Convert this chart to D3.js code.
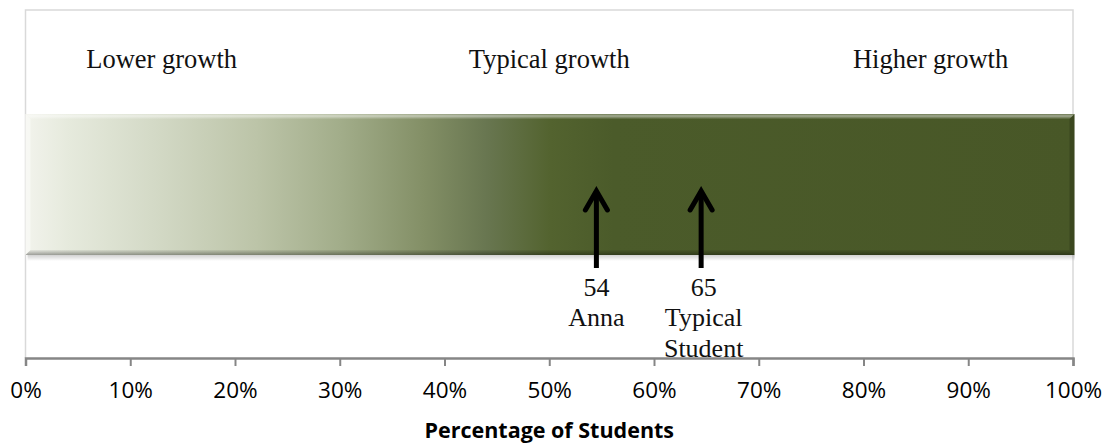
<!DOCTYPE html>
<html>
<head>
<meta charset="utf-8">
<script src="https://cdn.jsdelivr.net/npm/d3@7/dist/d3.min.js"></script>
<style>
  html, body { margin: 0; padding: 0; background: #fff; }
  svg { display: block; }
</style>
</head>
<body>
<svg id="chart" width="1105" height="443"></svg>
<script>
// ---- data ----
const zoneLabels = ["Lower growth", "Typical growth", "Higher growth"];
const zoneCenters = [13, 50, 86.4];              // percent position of zone label centres
const barValues = [100];                          // full-width percentile band
const markerPositions = [54.5, 64.5];             // where arrows point (percent)
const markerValues = ["54", "65"];
const markerNames = [["Anna"], ["Typical", "Student"]];
const tickValues = [0, 10, 20, 30, 40, 50, 60, 70, 80, 90, 100];
const axisTitle = "Percentage of Students";

// ---- layout ----
const svg = d3.select("#chart");
const pLeft = 25.5, pRight = 1073, pTop = 10, axisY = 358;
const barTop = 114, barBottom = 255;

const x = d3.scaleLinear().domain([0, 100]).range([pLeft, pRight]);

const defs = svg.append("defs");
const grad = defs.append("linearGradient").attr("id", "barGrad")
  .attr("x1", "0%").attr("x2", "100%").attr("y1", "0%").attr("y2", "0%");
[[0, "#f2f3ec"], [0.04, "#e6eadd"], [0.12, "#d4dac7"], [0.22, "#bcc4a8"],
 [0.3, "#a2ad8a"], [0.38, "#838f66"], [0.44, "#687650"], [0.5, "#53632f"],
 [0.56, "#4b5b2a"], [1, "#485727"]].forEach(([o, c]) =>
  grad.append("stop").attr("offset", o).attr("stop-color", c));

const topGrad = defs.append("linearGradient").attr("id", "topGrad")
  .attr("x1", 0).attr("x2", 0).attr("y1", 0).attr("y2", 1);
topGrad.append("stop").attr("offset", 0).attr("stop-color", "#fff").attr("stop-opacity", 0.2);
topGrad.append("stop").attr("offset", 0.4).attr("stop-color", "#fff").attr("stop-opacity", 0.5);
topGrad.append("stop").attr("offset", 1).attr("stop-color", "#fff").attr("stop-opacity", 0.05);

const botGrad = defs.append("linearGradient").attr("id", "botGrad")
  .attr("x1", 0).attr("x2", 0).attr("y1", 0).attr("y2", 1);
botGrad.append("stop").attr("offset", 0).attr("stop-color", "#000").attr("stop-opacity", 0.05);
botGrad.append("stop").attr("offset", 1).attr("stop-color", "#000").attr("stop-opacity", 0.35);

const shadowGrad = defs.append("linearGradient").attr("id", "shadowGrad")
  .attr("x1", 0).attr("x2", 0).attr("y1", 0).attr("y2", 1);
shadowGrad.append("stop").attr("offset", 0).attr("stop-color", "#000").attr("stop-opacity", 0.18);
shadowGrad.append("stop").attr("offset", 1).attr("stop-color", "#000").attr("stop-opacity", 0);

// chart border (plot area frame)
svg.append("path")
  .attr("d", `M${pLeft},${axisY}V${pTop}H${pRight}V${axisY}`)
  .attr("fill", "none").attr("stroke", "#d9d9d9").attr("stroke-width", 1.5);

// bar
const bar = svg.append("g").selectAll("g").data(barValues).join("g");
bar.append("rect")   // soft shadow
  .attr("x", x(0) + 2).attr("y", barBottom).attr("width", d => x(d) - x(0))
  .attr("height", 6).attr("fill", "url(#shadowGrad)");
bar.append("rect")
  .attr("x", x(0)).attr("y", barTop).attr("width", d => x(d) - x(0) + 1.5)
  .attr("height", barBottom - barTop).attr("fill", "url(#barGrad)");
const bv = 5;
bar.append("path")   // top bevel
  .attr("d", d => `M${x(0)},${barTop}H${x(d) + 1.5}L${x(d) + 1.5 - bv},${barTop + bv}H${x(0) + bv}Z`)
  .attr("fill", "url(#topGrad)");
bar.append("path")   // left bevel
  .attr("d", `M${x(0)},${barTop}L${x(0) + bv},${barTop + bv}V${barBottom - bv}L${x(0)},${barBottom}Z`)
  .attr("fill", "#fff").attr("fill-opacity", 0.45);
bar.append("path")   // right bevel
  .attr("d", d => `M${x(d) + 1.5},${barTop}L${x(d) + 1.5 - bv},${barTop + bv}V${barBottom - bv}L${x(d) + 1.5},${barBottom}Z`)
  .attr("fill", "#000").attr("fill-opacity", 0.18);
bar.append("path")   // bottom bevel
  .attr("d", d => `M${x(0)},${barBottom}L${x(0) + bv},${barBottom - bv}H${x(d) + 1.5 - bv}L${x(d) + 1.5},${barBottom}Z`)
  .attr("fill", "url(#botGrad)");

// zone labels
svg.append("g").selectAll("text").data(zoneLabels).join("text")
  .attr("x", (d, i) => x(zoneCenters[i]))
  .attr("y", 68)
  .attr("text-anchor", "middle")
  .attr("font-family", "'Liberation Serif', 'Times New Roman', serif")
  .attr("font-size", 26.5)
  .attr("fill", "#111")
  .text(d => d);

// arrows
const mk = svg.append("g").selectAll("g").data(markerPositions).join("g")
  .attr("transform", d => `translate(${x(d)},0)`);
mk.append("line").attr("x1", 0).attr("x2", 0).attr("y1", 191).attr("y2", 268)
  .attr("stroke", "#000").attr("stroke-width", 5);
mk.append("path").attr("d", "M-11,210L0,191L11,210")
  .attr("fill", "none").attr("stroke", "#000").attr("stroke-width", 5)
  .attr("stroke-linecap", "round").attr("stroke-linejoin", "miter");

// marker labels
mk.each(function(d, i) {
  const g = d3.select(this);
  const lines = [markerValues[i]].concat(markerNames[i]);
  g.selectAll("text").data(lines).join("text")
    .attr("x", i === 0 ? 0 : 2.5)
    .attr("y", (t, j) => 295.5 + j * 30.5)
    .attr("text-anchor", "middle")
    .attr("font-family", "'Liberation Serif', 'Times New Roman', serif")
    .attr("font-size", 26)
    .attr("fill", "#111")
    .text(t => t);
});

// x axis
const axis = d3.axisBottom(x).tickValues(tickValues).tickFormat(d => d + "%")
  .tickSize(8).tickPadding(16);
const ax = svg.append("g").attr("transform", `translate(0,${axisY})`).call(axis);
ax.select(".domain").attr("stroke", "#868686").attr("stroke-width", 2.5);
ax.selectAll(".tick line").attr("stroke", "#868686").attr("stroke-width", 2);
ax.selectAll(".tick text")
  .attr("font-family", "'Open Sans', sans-serif")
  .attr("font-size", 22.5).attr("fill", "#000");

// axis title
svg.append("text")
  .attr("x", (pLeft + pRight) / 2).attr("y", 437.5)
  .attr("text-anchor", "middle")
  .attr("font-family", "'Open Sans', sans-serif")
  .attr("font-weight", "bold").attr("font-size", 21.5).attr("fill", "#000")
  .text(axisTitle);
</script>
</body>
</html>
